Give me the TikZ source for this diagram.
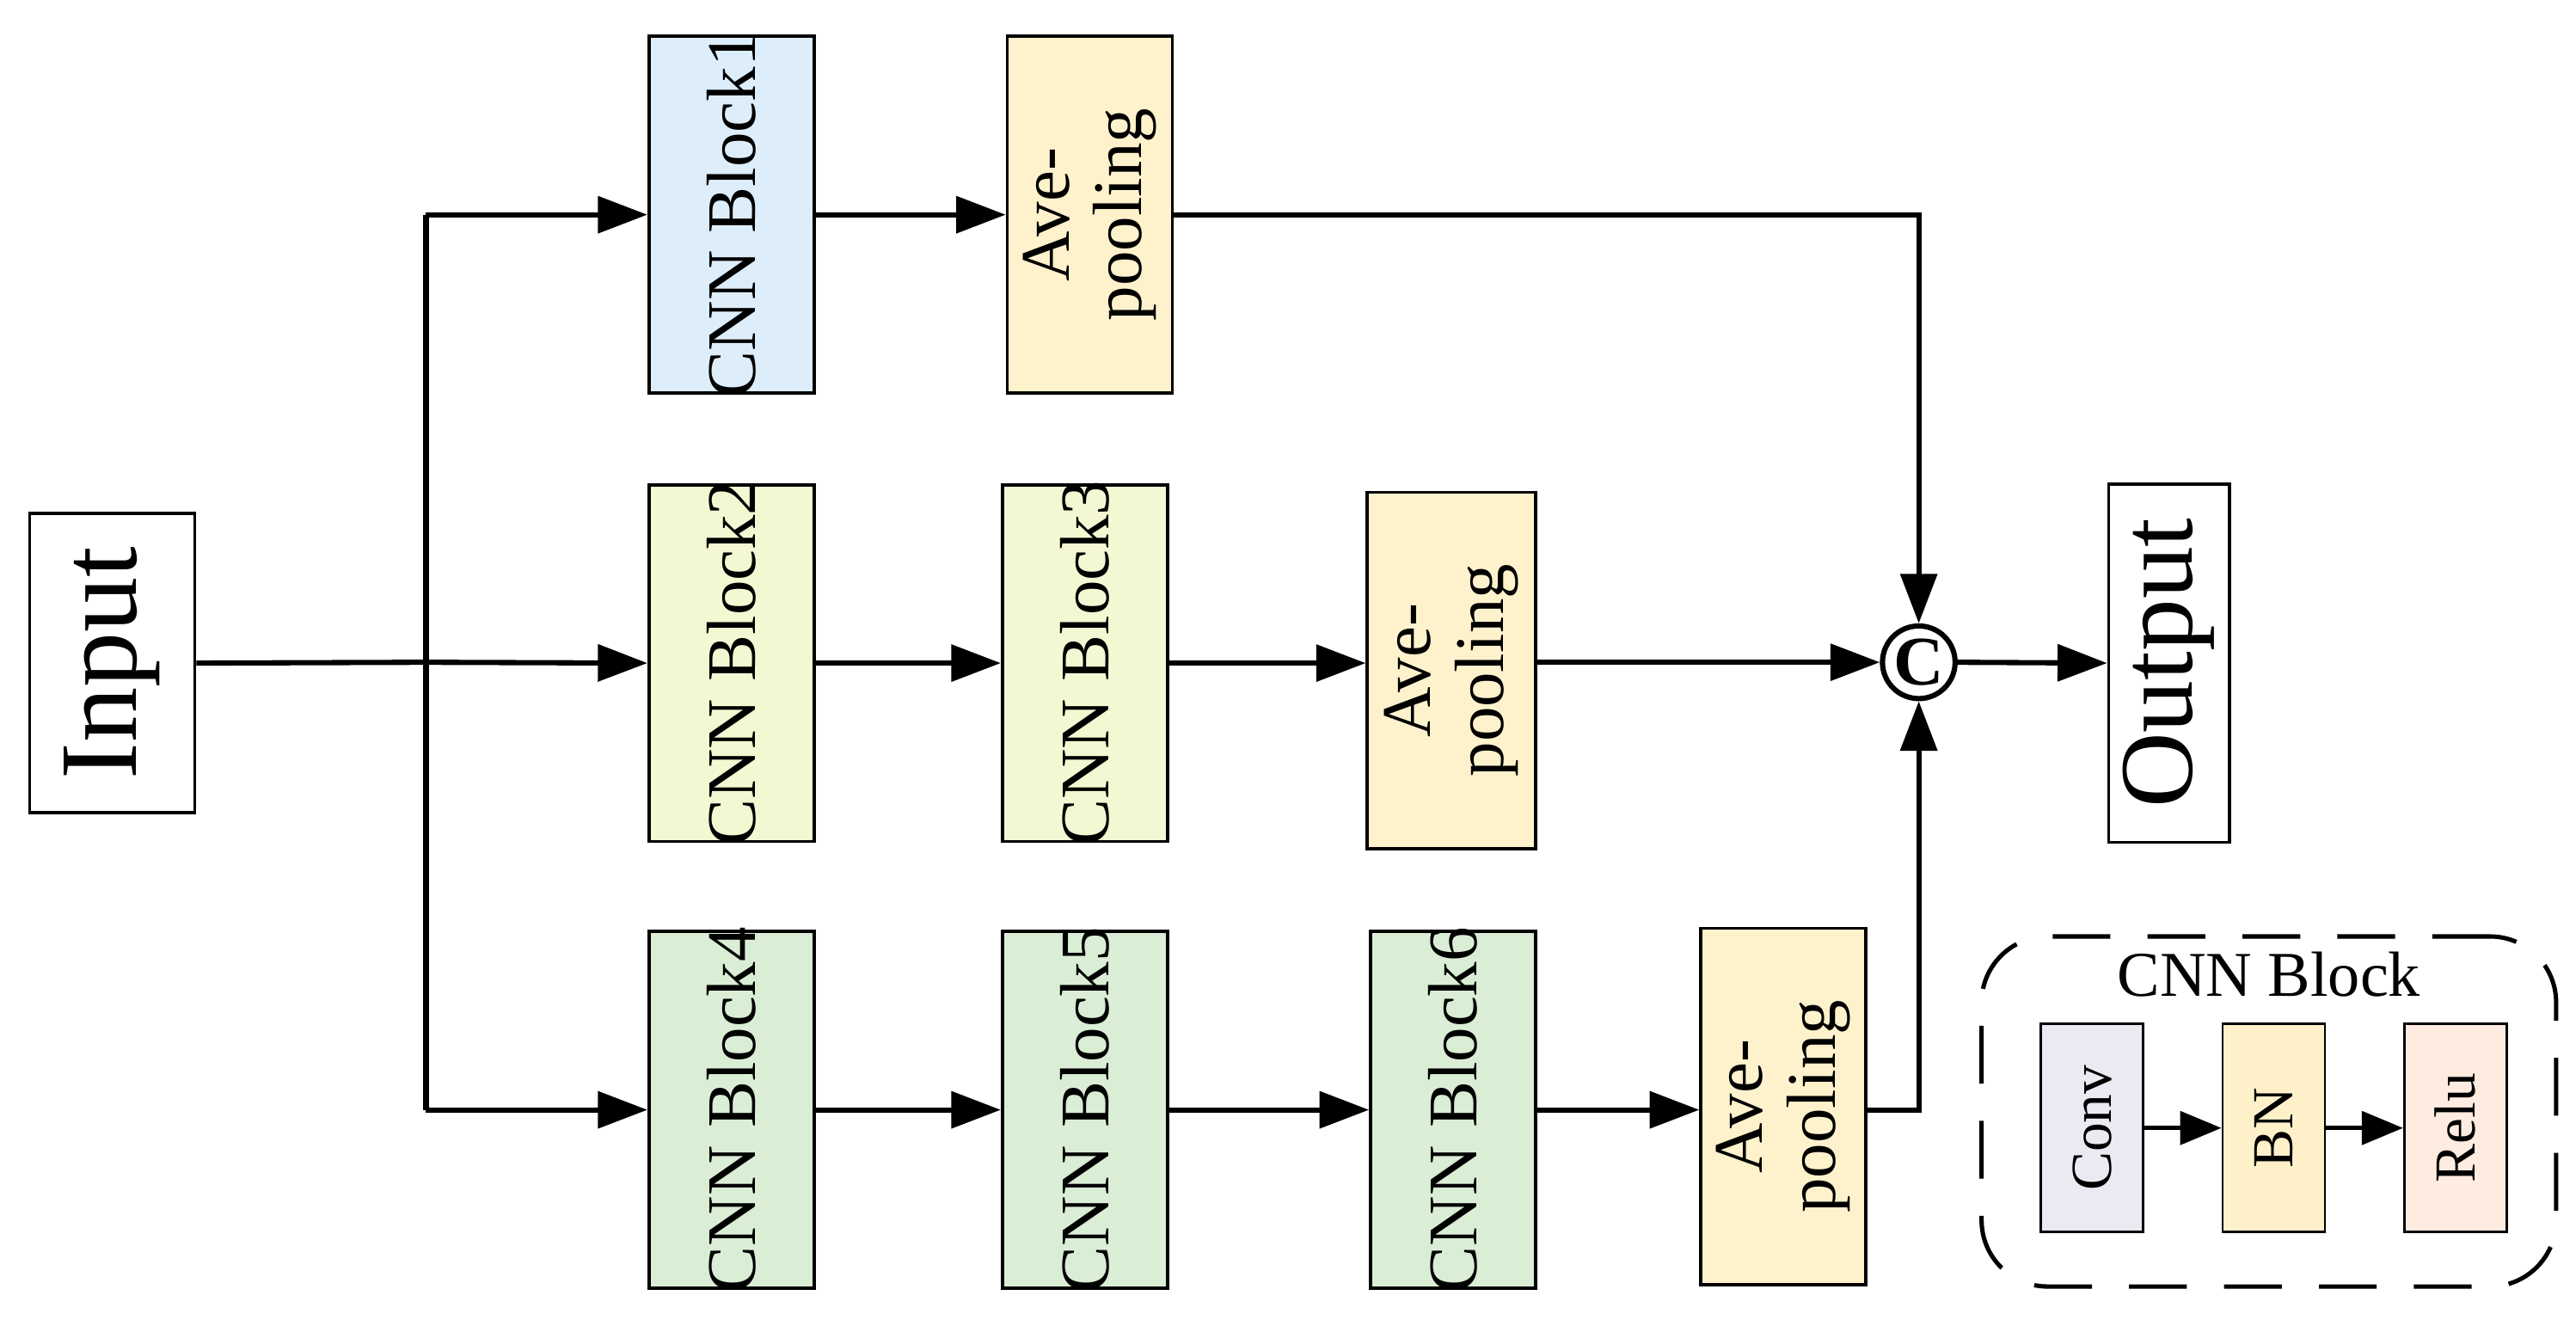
\documentclass[tikz,border=0pt]{standalone}
\usepackage{fontspec}
\setmainfont{Liberation Serif}
\usetikzlibrary{arrows.meta}
\definecolor{cb1}{HTML}{DDEDFA}
\definecolor{cb2}{HTML}{F3F8D2}
\definecolor{cb4}{HTML}{DAEDD5}
\definecolor{ave}{HTML}{FEF2CC}
\definecolor{conv}{HTML}{EDE9F2}
\definecolor{bnc}{HTML}{FEF1CA}
\definecolor{relu}{HTML}{FDECDF}
\tikzset{
 box/.style={draw,line width=1.1pt,minimum width=2cm,minimum height=4.32cm,inner sep=0pt},
 sbox/.style={draw,line width=0.8pt,minimum width=1.24cm,minimum height=2.52cm,inner sep=0pt},
 lab/.style={rotate=90,font=\fontsize{24}{25}\selectfont,align=center},
 slab/.style={rotate=90,font=\fontsize{20}{21}\selectfont},
 con/.style={line width=1.8pt,-{Triangle[length=0.6cm,width=0.44cm]}},
 scon/.style={line width=1.6pt,-{Triangle[length=0.5cm,width=0.4cm]}},
 ln/.style={line width=1.8pt}
}
\begin{document}
\begin{tikzpicture}[x=0.02cm,y=-0.02cm]
\useasboundingbox (0,0) rectangle (1560,799);
% input / output
\node[draw,line width=1.1pt,minimum width=2cm,minimum height=3.62cm,inner sep=0pt] (in) at (68,401.5) {};
\node[rotate=90,font=\fontsize{38}{40}\selectfont] at (in) {Input};
\node[draw,line width=1.1pt,minimum width=1.46cm,minimum height=4.34cm,inner sep=0pt] (out) at (1313.5,401.5) {};
\node[rotate=90,font=\fontsize{36}{38}\selectfont] at (out) {Output};
% row 1
\node[box,fill=cb1] (c1) at (443,130) {}; \node[lab] at (c1) {CNN Block1};
\node[box,fill=ave] (a1) at (660,130) {}; \node[lab] at (a1) {Ave-\\pooling};
% row 2
\node[box,fill=cb2] (c2) at (443,401.5) {}; \node[lab] at (c2) {CNN Block2};
\node[box,fill=cb2] (c3) at (657,401.5) {}; \node[lab] at (c3) {CNN Block3};
\node[box,fill=ave,minimum width=2.04cm] (a2) at (879,406) {}; \node[lab] at (a2) {Ave-\\pooling};
% row 3
\node[box,fill=cb4] (c4) at (443,672) {}; \node[lab] at (c4) {CNN Block4};
\node[box,fill=cb4] (c5) at (657,672) {}; \node[lab] at (c5) {CNN Block5};
\node[box,fill=cb4] (c6) at (880,672) {}; \node[lab] at (c6) {CNN Block6};
\node[box,fill=ave] (a3) at (1080,670) {}; \node[lab] at (a3) {Ave-\\pooling};
% concat
\node[draw,circle,line width=1.8pt,minimum size=0.88cm,inner sep=0pt,font=\fontsize{24}{24}\selectfont\bfseries] (cat) at (1162,401) {C};
% trunk
\coordinate (t1) at (258,130);
\coordinate (t2) at (258,401);
\coordinate (t3) at (258,672);
\draw[ln] (in.east) -- (t2);
\draw[ln] (t1) -- (t3);
\draw[con] (t1) -- (c1.west);
\draw[con] (t2) -- (c2.west);
\draw[con] (t3) -- (c4.west);
\draw[con] (c1.east) -- (a1.west);
\draw[con] (c2.east) -- (c3.west);
\draw[con] (c3.east) -- (a2.west |- c3.east);
\draw[con] (c4.east) -- (c5.west);
\draw[con] (c5.east) -- (c6.west);
\draw[con] (c6.east) -- (a3.west |- c6.east);
\draw[con] (a1.east) -| (cat.north);
\draw[con] (a2.east |- cat) -- (cat.west);
\draw[con] (a3.east |- c6.east) -| (cat.south);
\draw[con] (cat.east) -- (out.west);
% legend
\node[draw,line width=1.5pt,dash pattern=on 0.7cm off 0.45cm,rounded corners=0.8cm,minimum width=6.96cm,minimum height=4.24cm] (leg) at (1374,673) {};
\node[font=\fontsize{22}{24}\selectfont] (lt) at (1374,590) {CNN Block};
\node[sbox,fill=conv] (cv) at (1267,683) {}; \node[slab] at (cv) {Conv};
\node[sbox,fill=bnc] (bn) at (1377,683) {}; \node[slab] at (bn) {BN};
\node[sbox,fill=relu] (rl) at (1487,683) {}; \node[slab] at (rl) {Relu};
\draw[scon] (cv.east) -- (bn.west);
\draw[scon] (bn.east) -- (rl.west);
\end{tikzpicture}
\end{document}
